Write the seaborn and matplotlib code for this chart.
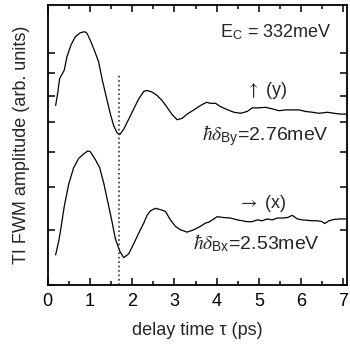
import matplotlib
matplotlib.use("Agg")
import matplotlib.pyplot as plt
import matplotlib.ticker as mticker
import seaborn as sns
import pandas as pd

# polarisation along y (upper trace)
t_y = [0.19, 0.237, 0.284, 0.339, 0.393, 0.457, 0.552, 0.654, 0.773, 0.877,
       0.931, 1.009, 1.104, 1.209, 1.287, 1.389, 1.483, 1.564, 1.642, 1.706,
       1.801, 1.919, 2.038, 2.156, 2.275, 2.353, 2.472, 2.590, 2.709, 2.827,
       2.946, 3.064, 3.182, 3.301, 3.460, 3.616, 3.758, 3.853, 3.972, 4.090,
       4.249, 4.408, 4.564, 4.723, 4.841, 5.0, 5.156, 5.315, 5.474, 5.630,
       5.789, 5.948, 6.104, 6.263, 6.422, 6.619, 6.777, 6.934, 7.09]
amp_y = [7.62, 8.10, 8.76, 8.96, 9.15, 9.81, 10.43, 10.89, 11.12, 11.18,
         11.09, 10.70, 10.16, 9.55, 8.76, 7.96, 7.31, 6.86, 6.62, 6.55,
         6.74, 7.10, 7.49, 7.89, 8.20, 8.24, 8.17, 8.03, 7.82, 7.55,
         7.27, 7.08, 7.13, 7.29, 7.45, 7.62, 7.75, 7.71, 7.71, 7.58,
         7.46, 7.36, 7.32, 7.39, 7.53, 7.53, 7.55, 7.49, 7.42, 7.45,
         7.45, 7.45, 7.39, 7.36, 7.32, 7.36, 7.32, 7.29, 7.29]

# polarisation along x (lower trace)
t_x = [0.19, 0.261, 0.315, 0.393, 0.498, 0.616, 0.735, 0.853, 0.948, 1.009,
       1.128, 1.232, 1.327, 1.422, 1.524, 1.602, 1.706, 1.801, 1.919, 2.038,
       2.156, 2.275, 2.353, 2.431, 2.550, 2.668, 2.787, 2.905, 3.024, 3.142,
       3.301, 3.460, 3.616, 3.735, 3.815, 3.934, 4.012, 4.171, 4.327, 4.486,
       4.604, 4.723, 4.841, 4.960, 5.078, 5.197, 5.315, 5.434, 5.552, 5.671,
       5.789, 5.908, 6.026, 6.145, 6.263, 6.382, 6.500, 6.555, 6.659, 6.777,
       6.934, 7.09]
amp_x = [3.51, 3.76, 4.03, 4.51, 5.06, 5.52, 5.79, 5.93, 6.02, 6.00,
         5.76, 5.52, 5.10, 4.63, 4.17, 3.82, 3.58, 3.46, 3.53, 3.72,
         3.93, 4.14, 4.31, 4.41, 4.47, 4.44, 4.40, 4.21, 4.07, 4.00,
         3.95, 4.00, 4.07, 4.14, 4.16, 4.23, 4.28, 4.26, 4.25, 4.21,
         4.19, 4.17, 4.17, 4.21, 4.19, 4.23, 4.21, 4.25, 4.25, 4.26,
         4.31, 4.23, 4.21, 4.20, 4.19, 4.19, 4.17, 4.13, 4.19, 4.22,
         4.23, 4.23]

tau_dip = 1.69
dip_top = 9.0

sns.set_style("ticks")
plt.rcParams['font.family'] = ['Liberation Sans', 'DejaVu Sans']
plt.rcParams['mathtext.fontset'] = 'stix'

fig = plt.figure(figsize=(3.5, 3.49), dpi=100)
ax = fig.add_axes([0.136, 0.183, 0.855, 0.803])

df_y = pd.DataFrame({'t': t_y, 'amp': amp_y})
df_x = pd.DataFrame({'t': t_x, 'amp': amp_x})
sns.lineplot(data=df_y, x='t', y='amp', ax=ax, color='black', lw=0.9)
sns.lineplot(data=df_x, x='t', y='amp', ax=ax, color='black', lw=0.9)

ax.set_yscale('log')
ax.set_ylim(3, 12.85)
ax.set_xlim(0, 7.08)
ax.vlines(tau_dip, 3, dip_top, colors='#333333', linestyles=':', lw=1.2)

ax.xaxis.set_major_locator(mticker.MultipleLocator(1))
ax.xaxis.set_minor_locator(mticker.MultipleLocator(0.5))
ax.yaxis.set_major_formatter(mticker.NullFormatter())
ax.yaxis.set_minor_formatter(mticker.NullFormatter())
ax.tick_params(which='both', direction='in', top=True, right=True,
               width=1.1, colors='black', labelsize=13, pad=6)
ax.tick_params(axis='x', which='major', length=5)
ax.tick_params(axis='x', which='minor', length=3)
ax.tick_params(axis='y', which='both', length=5)
for s in ax.spines.values():
    s.set_linewidth(1.3)
    s.set_color('black')

ax.set_xlabel('delay time τ (ps)', fontsize=13, labelpad=8)
ax.set_ylabel('TI FWM amplitude (arb. units)', fontsize=13, labelpad=7)

ax.text(0.949, 0.885, r'E$_\mathregular{C}$ = 332meV', transform=ax.transAxes,
        ha='right', va='baseline', fontsize=13)
ax.text(0.802, 0.679, r'$\uparrow$ (y)', transform=ax.transAxes,
        ha='right', va='baseline', fontsize=13)
ax.text(0.940, 0.518, r'$\hbar\delta_\mathregular{By}$=2.76meV',
        transform=ax.transAxes, ha='right', va='baseline', fontsize=14)
ax.text(0.799, 0.274, r'$\rightarrow$ (x)', transform=ax.transAxes,
        ha='right', va='baseline', fontsize=13)
ax.text(0.910, 0.129, r'$\hbar\delta_\mathregular{Bx}$=2.53meV',
        transform=ax.transAxes, ha='right', va='baseline', fontsize=14)

fig.savefig('out.png', dpi=100)
